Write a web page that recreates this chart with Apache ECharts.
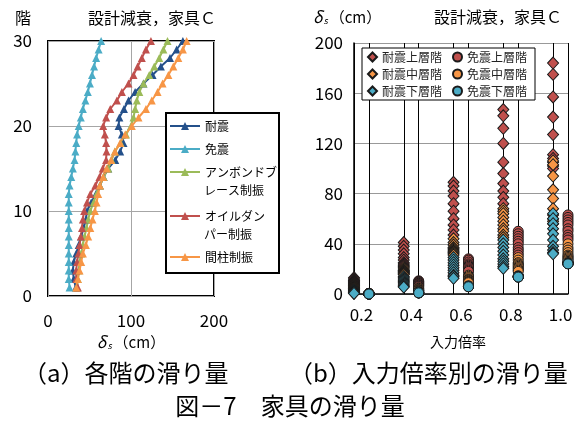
<!DOCTYPE html>
<html><head><meta charset="utf-8">
<script src="https://cdn.jsdelivr.net/npm/echarts@6/dist/echarts.min.js"></script>
<style>html,body{margin:0;padding:0;background:#fff}#c{width:576px;height:421px}</style>
</head><body><div id="c"></div>
<script>
// ---------- (a) 各階の滑り量 ----------
const floors = [1,2,3,4,5,6,7,8,9,10,11,12,13,14,15,16,17,18,19,20,21,22,23,24,25,26,27,28,29,30];
const taishin    = [33.5,31,30,31,34,37,40,43,45.6,47,52,57.7,62.5,67,72.5,81,87,91,89,85,86,91.5,97,105,115,126,136,147,155,162.5];
const menshin    = [26,25,25,25,25,25,25,25,25,25,25,25,26,28,30,32,33,34,35,37,39.5,42,45,48,50.5,53,55.5,58,61,64];
const unbond     = [35,36,37,38,40,42,44,46.4,48.4,51,55,58.5,62.5,67,72.6,76.6,80.6,87.5,94,100,103,105,107,110,115,122,128,134,139,144];
const oilDamper  = [36,34,34,35,36.7,38,39.5,41,42,43.5,47,51,57,62,66,70,70.5,70,68.5,66.5,70,75,83,89,97,103,108,113,118,124];
const kanbashira = [34,36,38,40,42,45.6,48.4,51,53.6,56.5,58.5,60.5,62.5,66.5,70.6,76,80.6,87,93,101,109,118,125,132,138,145,151,157,162.5,167];
const leftNames  = ['耐震','免震','アンボンドブレース制振','オイルダンパー制振','間柱制振'];
const leftLegendLines = [['耐震'],['免震'],['アンボンドブ','レース制振'],['オイルダン','パー制振'],['間柱制振']];
const leftXTicks = [0,100,200];
const leftYTicks = [0,10,20,30];

// ---------- (b) 入力倍率別の滑り量 ----------
const ratios = [0.2,0.4,0.6,0.8,1.0];
const taishinUpper = [
  [13,12,11,10.5,10,9.5,9,8.5,8,7.5],
  [41,38,35,32,29,27,25,24,23,22],
  [89,86,82,78,72,66,60,55,51,47],
  [147,142,132,120,105,96,88,82,77,72],
  [184,175,157,141,127,111,108,105,102,100]];
const taishinMiddle = [
  [7,6.5,6,5.5,5,4.5,4.5,4,4,3.5],
  [21,20,19,18.5,18,17.5,17,16.5,16,15.5],
  [44,41,39,37,36,35,34,33,32,31],
  [68,66,64,61,58,55,52,50,47,45],
  [106,103,94,83,76,68,63,60,58,56]];
const taishinLower = [
  [3,2.5,2,1.5,1.5,1,1,1,0.5,0.5],
  [14,13,12,11,10,9,8,7,6,5.5],
  [29,27,25,23,21,19,17,15,14,12.5],
  [43,40,37,34,31,28,26,24,22,20.5],
  [64,60,56,52,48,43,38,35,33,32]];
const menshinUpper = [
  [0.5,0.5,0.4,0.4,0.3,0.3,0.3,0.2,0.2,0.2],
  [10.5,10,9.5,9,8.5,8,7.5,7,6.5,6],
  [28,27,25.5,24,23,22,21,20,19,18],
  [50,48,46,44,42,40,37,35,33,31],
  [63,61,59,57,55,52,50,47,45,43]];
const menshinMiddle = [
  [0.2,0.2,0.2,0.2,0.1,0.1,0.1,0.1,0.1,0.1],
  [5,4.5,4,3.5,3,3,2.5,2.5,2,2],
  [15,14,13,12,11.5,11,10.5,10,9.5,9],
  [29,27,25,24,23,22,21,20,19,18],
  [40,37,35,33,31,30,29,28,27,26]];
const menshinLower = [
  [0.1,0.1,0.1,0,0,0,0,0,0,0],
  [1.2,1.1,1,1,1,0.9,0.9,0.9,0.9,0.9],
  [6.5,6.3,6.1,6,6,5.9,5.9,5.8,5.8,5.8],
  [14.5,14.2,14,13.8,13.8,13.7,13.6,13.6,13.5,13.5],
  [25,24.8,24.6,24.5,24.4,24.3,24.2,24.2,24.1,24]];
const rightNames = ['耐震上層階','耐震中層階','耐震下層階','免震上層階','免震中層階','免震下層階'];
const rightYTicks = [0,40,80,120,160,200];

// ---------- styling / layout ----------
const FONT = '"Noto Sans CJK JP", "Noto Sans", sans-serif';
const leftColors = ['#24508A','#4BACC6','#9BBB59','#C0504D','#F79646'];
const groupColors = ['#C0504D','#F79646','#4BACC6'];
const OFFSET = 0.03;
const legendRowY = [126,149,172,216,257];   // first-line centre of each legend entry
const legendLineGap = 18;
const legendTextX = 204;

const chart = echarts.init(document.getElementById('c'), null, {renderer:'canvas'});

const leftData = [taishin, menshin, unbond, oilDamper, kanbashira];
const leftSeries = leftNames.map((name, s) => ({
  name, type:'line', xAxisIndex:0, yAxisIndex:0,
  data: floors.map((f,i) => [leftData[s][i], f]),
  symbol:'triangle', symbolSize:8, showSymbol:true,
  lineStyle:{color:leftColors[s], width:2},
  itemStyle:{color:leftColors[s]},
  z: 2
}));

const rightGroups = [taishinUpper, taishinMiddle, taishinLower, menshinUpper, menshinMiddle, menshinLower];
const rightSeries = rightNames.map((name, s) => {
  const isMenshin = s >= 3;
  const dx = isMenshin ? OFFSET : -OFFSET;
  const pts = [];
  ratios.forEach((r, i) => rightGroups[s][i].forEach(v => pts.push([r + dx, v])));
  const ser = {
    name, type:'scatter', xAxisIndex:1, yAxisIndex:1, data: pts,
    symbol: isMenshin ? 'circle' : 'diamond',
    symbolSize: isMenshin ? 10 : [11,12],
    itemStyle:{color:groupColors[s % 3], borderColor:'#1a1a1a', borderWidth:1, opacity:1},
    z: 3
  };
  if (s === 0 || s === 3) {
    ser.markLine = {
      silent:true, symbol:['none','none'], z:1, animation:false,
      label:{show:false},
      lineStyle:{color:'#000', width:1, type:'solid'},
      data: ratios.map(r => ({xAxis: r + dx}))
    };
  }
  return ser;
});

const axisFont = {fontFamily:FONT, fontSize:17, color:'#000'};

// left legend: one legend component per entry so each row sits where the reference has it
const leftLegends = leftNames.map((n, i) => ({
  left:169, top:legendRowY[i] - 7, orient:'vertical', padding:0,
  itemWidth:30, itemHeight:10,
  textStyle:{fontFamily:FONT, fontSize:12, color:'#000', lineHeight:14},
  data:[n], formatter: () => leftLegendLines[i][0], z:10
}));
const legendSecondLines = [];
leftLegendLines.forEach((lines, i) => {
  if (lines.length > 1) legendSecondLines.push({type:'text', x:legendTextX, y:legendRowY[i] + legendLineGap, z:11,
    style:{text:lines[1], font:'12px '+FONT, fill:'#000', verticalAlign:'middle'}});
});

const deltaRich = {d:{fontSize:16, fontStyle:'italic', fontFamily:FONT}, s:{fontSize:9, fontStyle:'italic', fontFamily:FONT, verticalAlign:'bottom', padding:[8,2,0,1]}};

chart.setOption({
  animation:false,
  grid:[
    {left:48, top:41, width:166, height:255, show:true, borderColor:'#000', borderWidth:2, outerBoundsMode:'none'},
    {left:354, top:43, width:214, height:251, outerBoundsMode:'none'}
  ],
  xAxis:[
    {gridIndex:0, type:'value', min:0, max:200, interval:100,
     axisLine:{show:false}, axisTick:{show:false},
     axisLabel:Object.assign({margin:16, customValues:leftXTicks, showMinLabel:true, showMaxLabel:true, hideOverlap:false}, axisFont),
     splitLine:{show:true, lineStyle:{color:'#A6A6A6', width:1}}},
    {gridIndex:1, type:'value', min:0.17, max:1.03,
     axisLine:{show:true, lineStyle:{color:'#000', width:1.5}}, axisTick:{show:false},
     axisLabel:Object.assign({margin:12, customValues:ratios, formatter:v=>Number(v).toFixed(1)}, axisFont),
     splitLine:{show:false}}
  ],
  yAxis:[
    {gridIndex:0, type:'value', min:0, max:30, interval:10,
     axisLine:{show:false}, axisTick:{show:false},
     axisLabel:Object.assign({margin:16, customValues:leftYTicks}, axisFont),
     splitLine:{show:true, lineStyle:{color:'#A6A6A6', width:1}}},
    {gridIndex:1, type:'value', min:0, max:200, interval:40,
     axisLine:{show:true, lineStyle:{color:'#000', width:1.5}}, axisTick:{show:false},
     axisLabel:Object.assign({margin:11, customValues:rightYTicks}, axisFont),
     splitLine:{show:true, lineStyle:{color:'#999', width:1}}}
  ],
  legend: leftLegends.concat([
    {left:362, top:48, orient:'vertical', height:50, backgroundColor:'#fff', borderColor:'#000', borderWidth:1,
     padding:[3,3,3,5], itemGap:5, itemWidth:9, itemHeight:9,
     textStyle:{fontFamily:FONT, fontSize:12, color:'#222', width:65, backgroundColor:'rgba(255,255,255,0)'},
     data: rightNames, z:10}
  ]),
  graphic:[
    {type:'rect', z:3, shape:{x:166, y:113, width:113, height:160}, style:{fill:'#fff', stroke:'#000', lineWidth:2}},
    {type:'text', left:15, top:10, style:{text:'階', font:'16px '+FONT, fill:'#000'}},
    {type:'text', left:88, top:10, style:{text:'設計減衰，家具Ｃ', font:'16px '+FONT, fill:'#000'}},
    {type:'text', left:434, top:9, style:{text:'設計減衰，家具Ｃ', font:'16px '+FONT, fill:'#000'}},
    {type:'text', left:313, top:9, style:{text:'{d|δ}{s|s}（cm）', font:'15px '+FONT, fill:'#000', rich:deltaRich}},
    {type:'text', x:131, y:342, style:{text:'{d|δ}{s|s}（cm）', font:'15px '+FONT, fill:'#000', align:'center', verticalAlign:'middle', rich:deltaRich}},
    {type:'text', x:458, y:342, style:{text:'入力倍率', font:'14px '+FONT, fill:'#000', align:'center', verticalAlign:'middle'}},
    {type:'text', x:23, y:373, style:{text:'（a）各階の滑り量', font:'24px '+FONT, fill:'#000', verticalAlign:'middle'}},
    {type:'text', x:289, y:373, style:{text:'（b）入力倍率別の滑り量', font:'24px '+FONT, fill:'#000', verticalAlign:'middle'}},
    {type:'text', x:290, y:406, style:{text:'図－7　家具の滑り量', font:'24px '+FONT, fill:'#000', align:'center', verticalAlign:'middle'}}
  ].concat(legendSecondLines),
  series: leftSeries.concat(rightSeries)
});
</script></body></html>
